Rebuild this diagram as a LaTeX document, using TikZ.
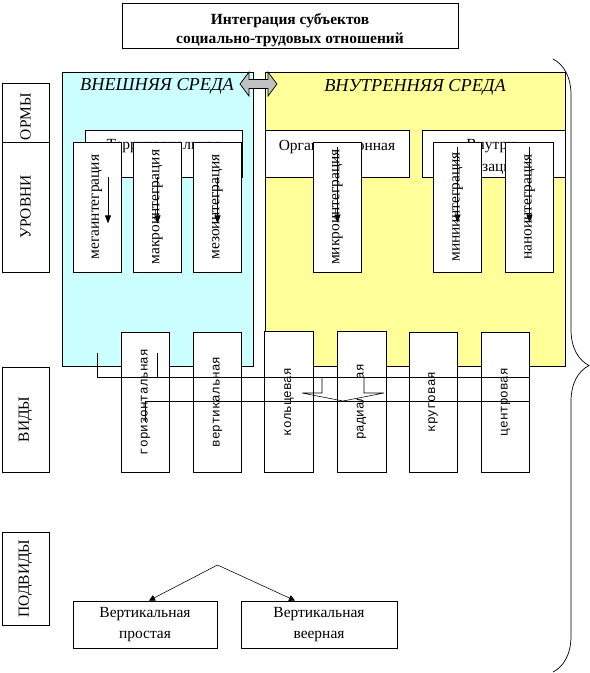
\documentclass[tikz,border=0pt]{standalone}
\usepackage{fontspec}
\setmainfont{Liberation Serif}
\setmonofont{Liberation Mono}
\usetikzlibrary{arrows.meta, positioning, decorations.pathreplacing}
\definecolor{mycyan}{HTML}{CCFFFF}
\definecolor{myyellow}{HTML}{FFFF99}
\definecolor{mygrey}{HTML}{C0C0C0}
\tikzset{
  box/.style={draw=black, fill=white, line width=0.6pt, inner sep=0pt, align=center},
  sidebox/.style={box, minimum width=1.175cm, font=\fontsize{11}{13}\selectfont},
  hbox/.style={box, minimum height=1.175cm},
  hlabel/.style={anchor=north, inner sep=0pt, align=center, font=\fontsize{11}{15}\selectfont},
  vbox/.style={box, minimum width=1.2cm, minimum height=3.25cm, font=\fontsize{11}{13}\selectfont},
  kindbox/.style={box, minimum width=1.2cm, minimum height=3.5cm, font=\ttfamily\fontsize{9}{11}\selectfont},
  area/.style={draw=black, line width=0.6pt, inner sep=0pt, minimum height=7.35cm},
  arr/.style={-{Triangle[length=0.2cm,width=0.15cm]}, line width=0.6pt},
  thinarr/.style={-{Triangle[length=0.15cm,width=0.15cm]}, line width=0.4pt}
}

\begin{document}
\begin{tikzpicture}[x=0.025cm, y=-0.025cm]
\useasboundingbox (0,0) rectangle (590,673);

% title
\node[box, minimum width=8.4cm, minimum height=1.125cm] (title) at (290,25.5) {};
\node[align=center, inner sep=0pt, font=\bfseries\fontsize{11}{13}\selectfont] (titletext) at (290,30)
  {Интеграция субъектов\\социально-трудовых отношений};

% two environments
\node[area, fill=mycyan, minimum width=4.775cm] (outer) at (157.5,219) {};
\node[area, fill=myyellow, minimum width=7.5cm] (inner) at (415,219) {};
\draw[fill=mygrey, line width=0.5pt] (240,84) -- (249,72) -- (249,79.5) -- (268,79.5) -- (268,72)
  -- (277,84) -- (268,96) -- (268,88.5) -- (249,88.5) -- (249,96) -- cycle;
\node[font=\itshape\fontsize{13}{15}\selectfont] (outertext) at (157,86) {ВНЕШНЯЯ СРЕДА};
\node[font=\itshape\fontsize{13}{15}\selectfont] (innertext) at (415,87) {ВНУТРЕННЯЯ СРЕДА};

% forms
\node[hbox, minimum width=3.925cm] (terr) at (163.5,153.5) {};
\node[hlabel] (terrtext) at ([yshift=-0.25cm]terr.north) {Территориальная};
\node[hbox, minimum width=3.6cm] (org) at (337,153.5) {};
\node[hlabel] (orgtext) at ([yshift=-0.25cm]org.north) {Организационная};
\node[hbox, minimum width=3.575cm] (vnutr) at (493.5,153.5) {};
\node[hlabel] (vnutrtext) at ([yshift=-0.25cm]vnutr.north) {Внутри-\\организационная};

% levels
\node[vbox] (mega) at (97,207) {\rotatebox{90}{мегаинтеграция}};
\node[vbox] (makro) at (157.5,207) {\rotatebox{90}{макроинтеграция}};
\node[vbox] (mezo) at (217.5,207) {\rotatebox{90}{мезоинтеграция}};
\node[vbox] (mikro) at (337.5,207) {\rotatebox{90}{микроинтеграция}};
\node[vbox] (mini) at (457.5,207) {\rotatebox{90}{миниинтеграция}};
\node[vbox] (nano) at (529.5,207) {\rotatebox{90}{наноинтеграция}};

\draw[arr] ([xshift=0.275cm]mega.center |- terr.south) -- ++(0,46);
\draw[arr] (makro.center |- terr.south) -- ++(0,46);
\draw[arr] (mezo.center |- terr.south) -- ++(0,46);
\draw[arr] ([yshift=-0.125cm]mikro.north) -- ++(0,76);
\draw[arr] ([yshift=-0.125cm]mini.north) -- ++(0,76);
\draw[arr] ([yshift=-0.125cm]nano.north) -- ++(0,76);

% kinds
\node[kindbox] (hor) at (145.5,402) {\rotatebox{90}{горизонтальная}};
\node[kindbox] (vert) at (217.5,402) {\rotatebox{90}{вертикальная}};
\node[kindbox, draw=none] (kol) at (289,402) {\rotatebox{90}{кольцевая}};
\node[kindbox, draw=none] (rad) at (361.5,402) {\rotatebox{90}{радиальная}};
\node[kindbox] (krug) at (433,402) {\rotatebox{90}{круговая}};
\node[kindbox] (cen) at (505.5,402) {\rotatebox{90}{центровая}};

% white block arrow over radial
\fill[white] (322,377) -- (364,377) -- (364,393) -- (384,393) -- (343,401) -- (302,393) -- (322,393) -- cycle;
\draw[line width=0.4pt] (322,377) -- (322,393) -- (302,393) -- (343,401) -- (384,393) -- (364,393) -- (364,377);
\draw[line width=0.6pt] (kol.north west) rectangle (kol.south east);
\draw[line width=0.6pt] (rad.north west) rectangle (rad.south east);

\draw[line width=0.6pt] (mega.center |- 0,353) -- (mega.center |- 0,377) -- (cen.east |- 0,377);
\draw[line width=0.6pt] (makro.center |- 0,353) -- (makro.center |- 0,377);
\draw[line width=0.6pt] (hor.center |- 0,422) -- (hor.center |- 0,401) -- (cen.east |- 0,401);

% left column
\node[sidebox, minimum height=1.475cm] (formy) at (25.5,112.5) {\rotatebox{90}{ОРМЫ\hspace{0.2cm}}};
\node[sidebox, minimum height=3.25cm] (urovni) at (25.5,207) {\rotatebox{90}{УРОВНИ}};
\node[sidebox, minimum height=2.625cm] (vidy) at (25.5,419.5) {\rotatebox{90}{ВИДЫ}};
\node[sidebox, minimum height=2.325cm] (podvidy) at (25.5,578.5) {\rotatebox{90}{ПОДВИДЫ}};

% subkinds
\node[box, minimum width=3.6cm, minimum height=1.175cm, font=\fontsize{11}{15}\selectfont] (prost) at (145,624.5) {Вертикальная\\простая};
\node[box, minimum width=3.9cm, minimum height=1.175cm, font=\fontsize{11}{15}\selectfont] (veer) at (319,624.5) {Вертикальная\\веерная};
\coordinate (fork) at (vert.center |- 0,565);
\draw[thinarr] (fork) -- ([xshift=0.1cm]prost.north);
\draw[thinarr] (fork) -- ([xshift=-0.6cm]veer.north);

% brace
\draw[decorate, decoration={brace, amplitude=0.9cm}, line width=0.5pt] (553,59) -- (553,672);
\end{tikzpicture}
\end{document}
